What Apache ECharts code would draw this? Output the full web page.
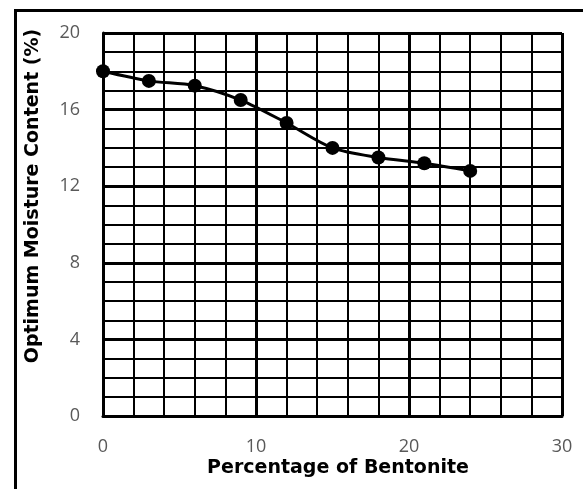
<!DOCTYPE html>
<html><head><meta charset="utf-8">
<script src="https://cdn.jsdelivr.net/npm/echarts@6/dist/echarts.min.js"></script>
<style>html,body{margin:0;padding:0;background:#fff}#c{width:583px;height:489px}</style>
</head><body><div id="c"></div>
<script>
const bentonite = [0, 3, 6, 9, 12, 15, 18, 21, 24];
const omc = [18.0, 17.5, 17.25, 16.5, 15.3, 14.0, 13.5, 13.2, 12.8];
const xTitle = 'Percentage of Bentonite';
const yTitle = 'Optimum Moisture Content (%)';

const chart = echarts.init(document.getElementById('c'), null, {renderer: 'canvas'});
const tickFont = '"Open Sans", "Noto Sans", sans-serif';
const titleFont = '"DejaVu Sans", sans-serif';
chart.setOption({
  animation: false,
  backgroundColor: '#fff',
  grid: {left: 103, right: 21, top: 33, bottom: 73},
  xAxis: {
    type: 'value', min: 0, max: 30, interval: 10,
    axisLine: {show: true, lineStyle: {color: '#000', width: 3}},
    axisTick: {show: false},
    axisLabel: {fontFamily: tickFont, fontSize: 18, color: '#595959', margin: 22},
    splitLine: {show: true, lineStyle: {color: '#000', width: 3}},
    minorTick: {show: false, splitNumber: 5},
    minorSplitLine: {show: true, lineStyle: {color: '#000', width: 2}}
  },
  yAxis: {
    type: 'value', min: 0, max: 20, interval: 4,
    axisLine: {show: true, lineStyle: {color: '#000', width: 3}},
    axisTick: {show: false},
    axisLabel: {fontFamily: tickFont, fontSize: 18, color: '#595959', margin: 23},
    splitLine: {show: true, lineStyle: {color: '#000', width: 3}},
    minorTick: {show: false, splitNumber: 4},
    minorSplitLine: {show: true, lineStyle: {color: '#000', width: 2}}
  },
  graphic: [
    {type: 'rect', left: 13, top: 8, shape: {width: 600, height: 600}, style: {fill: 'none', stroke: '#000', lineWidth: 3}, z: 100},
    {type: 'text', x: 338, y: 468, style: {text: xTitle, fontFamily: titleFont, fontWeight: 'bold', fontSize: 19, fill: '#000', align: 'center', verticalAlign: 'middle'}},
    {type: 'text', x: 33, y: 196, rotation: Math.PI / 2, style: {text: yTitle, fontFamily: titleFont, fontWeight: 'bold', fontSize: 19, fill: '#000', align: 'center', verticalAlign: 'middle'}}
  ],
  series: [{
    type: 'line',
    data: bentonite.map((x, i) => [x, omc[i]]),
    smooth: 0.3,
    symbol: 'circle', symbolSize: 14,
    lineStyle: {color: '#000', width: 3},
    itemStyle: {color: '#000'},
    z: 10
  }]
});
</script></body></html>
